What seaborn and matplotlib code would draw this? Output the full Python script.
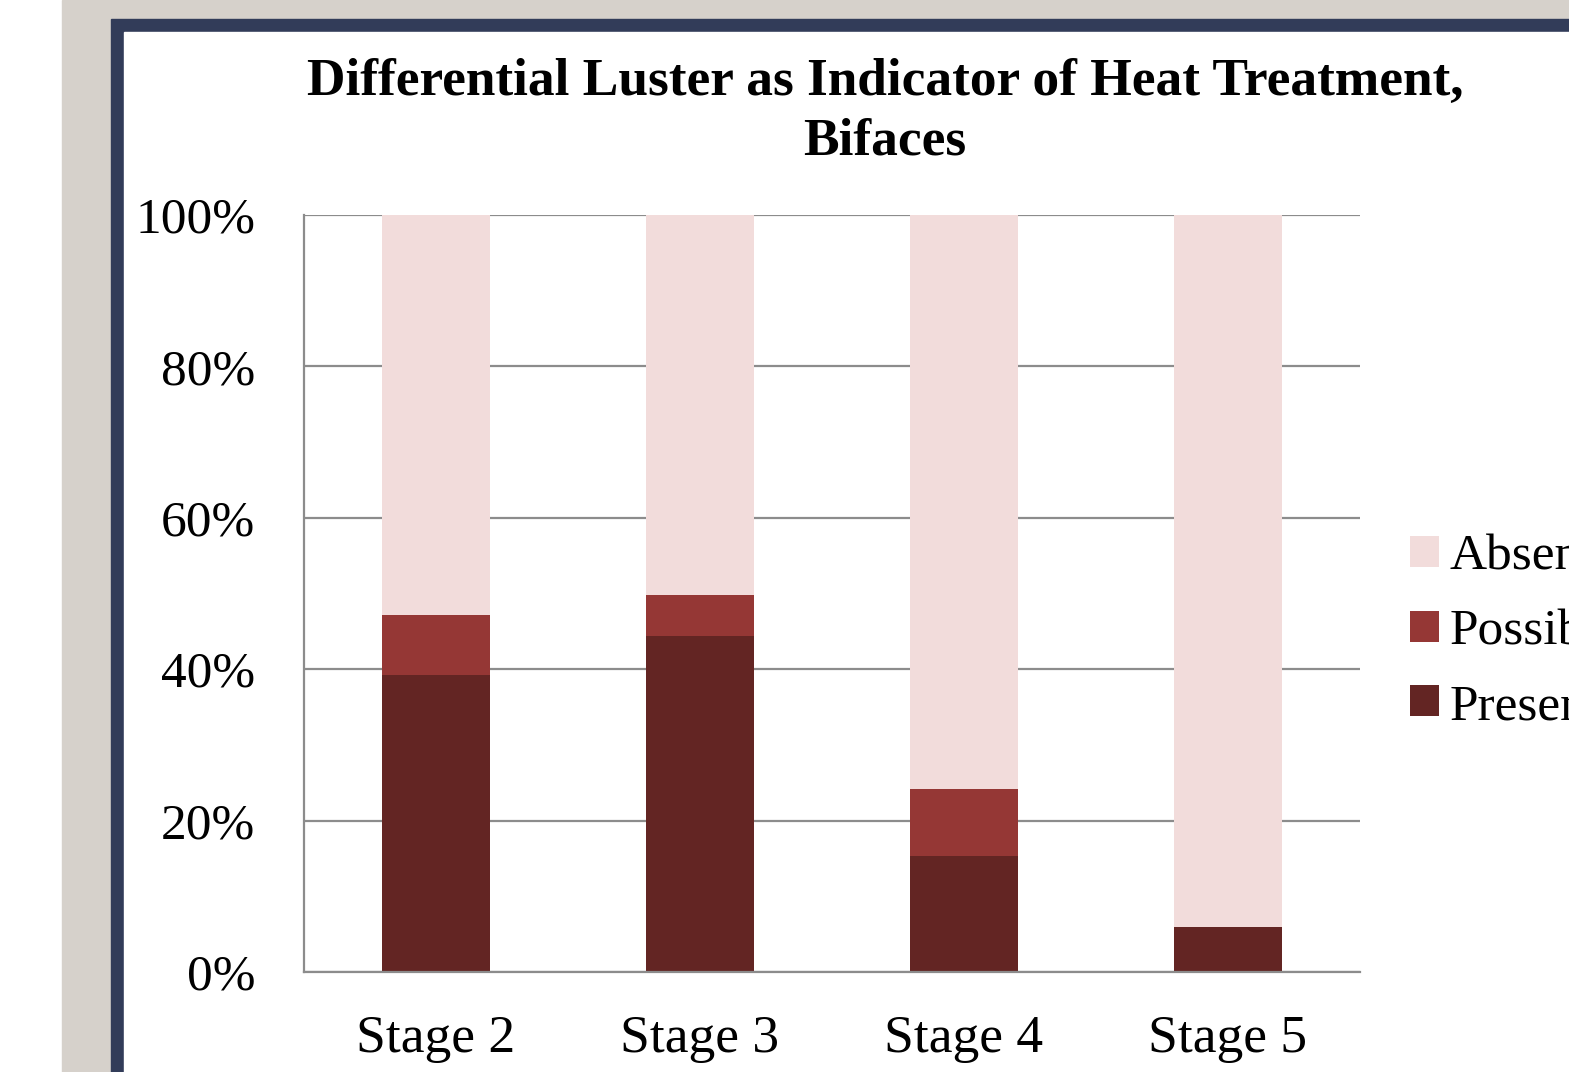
import numpy as np
import pandas as pd
import matplotlib
matplotlib.use('Agg')
import matplotlib.pyplot as plt
import seaborn as sns
from matplotlib.patches import Rectangle, Patch

stages = ['Stage 2', 'Stage 3', 'Stage 4', 'Stage 5']
present = [39.2, 44.4, 15.3, 5.9]
possible = [8.0, 5.4, 8.9, 0.0]
absent = [52.8, 50.2, 75.8, 94.1]

colors = {'Absent': '#f2dcdb', 'Possible': '#953735', 'Present': '#632523'}

sns.set_style('white')
plt.rcParams['font.family'] = ['Liberation Serif', 'DejaVu Serif']
plt.rcParams['text.color'] = 'black'
plt.rcParams['xtick.color'] = 'black'
plt.rcParams['ytick.color'] = 'black'

df = pd.DataFrame({'Stage': stages, 'Present': present, 'Possible': possible, 'Absent': absent})
df['top_present'] = df['Present']
df['top_possible'] = df['Present'] + df['Possible']
df['top_absent'] = df['top_possible'] + df['Absent']

fig = plt.figure(figsize=(15.69, 10.72), dpi=100)
fig.patch.set_facecolor('white')
# slide background and frame
fig.patches.append(Rectangle((62 / 1569, 0), 1, 1, transform=fig.transFigure, color='#d6d1cb', zorder=-10))
fig.patches.append(Rectangle((111 / 1569, 0), 1, 1 - 19 / 1072, transform=fig.transFigure, color='#323c59', zorder=-9))
fig.patches.append(Rectangle((124 / 1569, 0), 1, 1 - 32 / 1072, transform=fig.transFigure, color='white', zorder=-8))

ax = fig.add_axes([304 / 1569, 1 - 972 / 1072, (1360 - 304) / 1569, (972 - 215) / 1072])
ax.set_facecolor('none')

for col, name in [('top_absent', 'Absent'), ('top_possible', 'Possible'), ('top_present', 'Present')]:
    sns.barplot(data=df, x='Stage', y=col, order=stages, color=colors[name], width=0.41,
                saturation=1, ax=ax, zorder=2, edgecolor='none')

ax.set_ylim(0, 100)
ax.set_xlim(-0.5, 3.5)
ax.set_yticks(np.arange(0, 101, 20))
ax.set_yticklabels([f'{v}%' for v in range(0, 101, 20)], fontsize=37)
ax.yaxis.grid(True, color='#8c8c8c', linewidth=1.6, zorder=1)
ax.set_axisbelow(True)
ax.set_xlabel('')
ax.set_ylabel('')
ax.tick_params(axis='x', which='major', length=0, labelsize=38.5, pad=31)
ax.set_xticks(np.arange(-0.5, 4, 1), minor=True)
ax.tick_params(axis='x', which='minor', length=11, width=1.6, color='#8c8c8c', direction='out')
ax.tick_params(axis='y', length=11, width=1.6, color='#8c8c8c', labelcolor='black', direction='out', pad=24)
for s in ['top', 'right']:
    ax.spines[s].set_visible(False)
for s in ['left', 'bottom']:
    ax.spines[s].set_color('#8c8c8c')
    ax.spines[s].set_linewidth(1.6)

handles = [Patch(facecolor=colors[n], edgecolor='none') for n in ['Absent', 'Possible', 'Present']]
fig.legend(handles, ['Absent', 'Possible', 'Present'], loc='center left',
           bbox_to_anchor=(1364 / 1569, 1 - 632 / 1072), frameon=False, fontsize=37,
           handlelength=0.55, handleheight=0.55, handletextpad=0.22, labelspacing=0.55)

fig.text(885 / 1569, 1 - 112 / 1072, 'Differential Luster as Indicator of Heat Treatment,\nBifaces',
         ha='center', va='center', fontsize=38.4, fontweight='bold', linespacing=1.3)

fig.savefig('out.png', dpi=100)
